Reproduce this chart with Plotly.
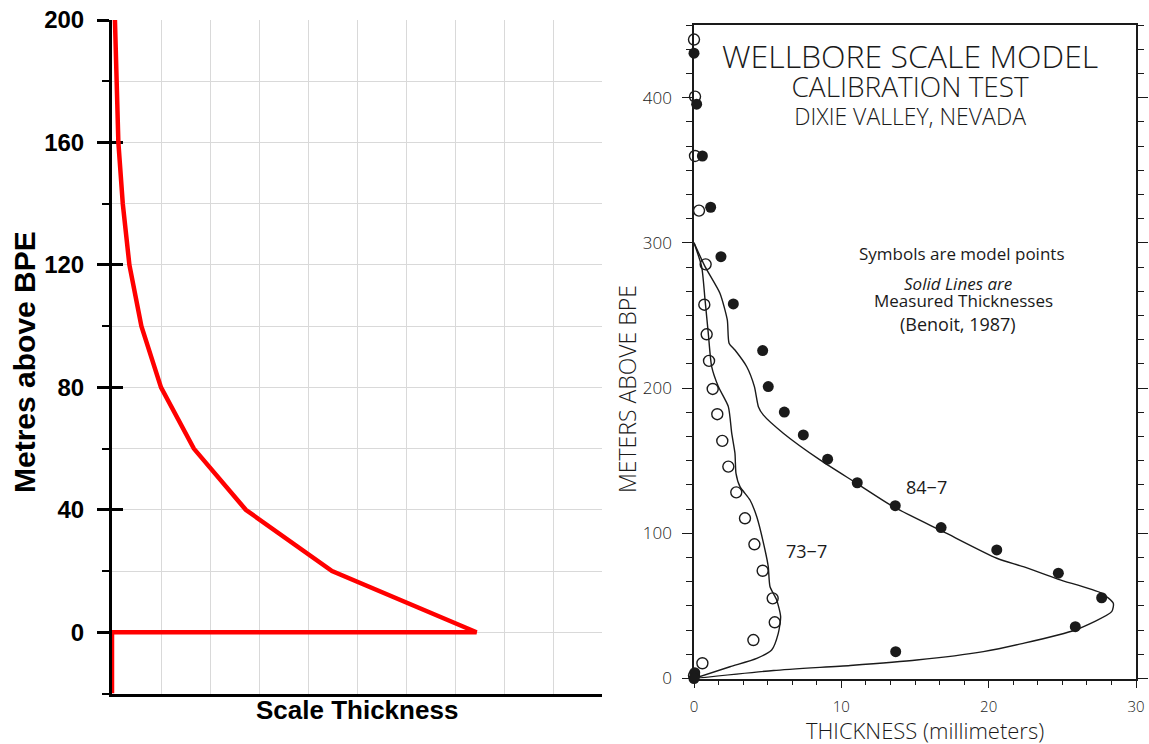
import plotly.graph_objects as go

W, H = 1149, 744

# ---- left panel: sketch profile (thickness in grid units vs height above BPE)
sketch_height = [200, 180, 160, 140, 120, 100, 80, 60, 40, 20, 0, 0, -20]
sketch_thickness = [0.06, 0.09, 0.13, 0.22, 0.355, 0.6, 1.0, 1.67, 2.73, 4.49, 7.44, 0, 0]

# ---- right panel: Dixie Valley calibration test
# measured thickness profiles (Benoit, 1987)
meas_847_height = [300, 283.6, 265.3, 246.9, 230.9, 226.2, 214.7, 201.0, 187.2, 181.5,
                   168.9, 150.5, 134.4, 118.3, 101.1, 82.8, 77.0, 68.3, 58.7, 51.8,
                   46.0, 33.4, 24.2, 18.5, 12.7, 9.0, 5.5, 0]
meas_847_mm = [0, 0.75, 1.76, 2.26, 2.38, 2.78, 3.58, 4.10, 4.37, 4.70,
               6.06, 8.55, 11.04, 13.53, 16.92, 20.55, 22.35, 24.73, 27.67, 28.46,
               28.35, 25.88, 22.35, 19.64, 15.12, 10.6, 5.4, 0]

meas_737_height = [300, 283.6, 260.7, 237.7, 214.7, 201.0, 187.2, 168.9, 155.1, 141.3,
                   132.1, 122.9, 111.4, 88.5, 77.0, 63.2, 54.1, 42.6, 31.1, 19.6,
                   13.9, 8.1, 0]
meas_737_mm = [0, 0.52, 0.75, 0.97, 1.20, 1.65, 2.33, 2.56, 2.78, 2.85,
               3.12, 3.80, 4.26, 4.82, 5.04, 5.16, 5.61, 5.88, 5.72, 5.27,
               4.26, 2.44, 0]

# model points
model_847_height = [430.6, 395.5, 359.8, 324.5, 290.5, 257.9, 225.8, 201.0, 183.5, 167.7,
                    151.0, 134.8, 119.0, 103.9, 88.5, 72.5, 55.6, 35.7, 18.5, 4.0, 0]
model_847_mm = [0, 0.18, 0.57, 1.13, 1.83, 2.67, 4.66, 5.04, 6.13, 7.42,
                9.07, 11.08, 13.66, 16.77, 20.55, 24.73, 27.67, 25.88, 13.69, 0.05, 0]

model_737_height = [440, 400.7, 359.8, 322.2, 285.2, 257.4, 237.0, 218.7, 199.4, 182.0,
                    163.6, 145.9, 128.2, 110.3, 92.4, 74.2, 55.2, 38.7, 26.5, 10.5, 2]
model_737_mm = [0, 0.07, 0.07, 0.34, 0.79, 0.70, 0.86, 1.02, 1.27, 1.58,
                1.92, 2.33, 2.87, 3.46, 4.10, 4.66, 5.34, 5.48, 4.03, 0.57, 0]

INK = "#1a1a1a"
SCAN_FONT = "Open Sans"

fig = go.Figure()

fig.add_trace(go.Scatter(x=sketch_thickness, y=sketch_height, mode="lines",
                         line=dict(color="#ff0000", width=4.5),
                         xaxis="x", yaxis="y", cliponaxis=False,
                         hoverinfo="skip", showlegend=False))
# carrier for the inward major ticks of the left axis
fig.add_trace(go.Scatter(x=[], y=[], xaxis="x", yaxis="y3", showlegend=False))

for hx, hy in ((meas_847_mm, meas_847_height), (meas_737_mm, meas_737_height)):
    fig.add_trace(go.Scatter(x=hx, y=hy, mode="lines",
                             line=dict(color=INK, width=1.4, shape="spline", smoothing=0.6),
                             xaxis="x2", yaxis="y2", cliponaxis=False,
                             hoverinfo="skip", showlegend=False))

fig.add_trace(go.Scatter(x=model_737_mm, y=model_737_height, mode="markers",
                         marker=dict(symbol="circle-open", size=11, color=INK,
                                     line=dict(width=1.4)),
                         xaxis="x2", yaxis="y2", cliponaxis=False,
                         hoverinfo="skip", showlegend=False))
fig.add_trace(go.Scatter(x=model_847_mm, y=model_847_height, mode="markers",
                         marker=dict(symbol="circle", size=11, color=INK),
                         xaxis="x2", yaxis="y2", cliponaxis=False,
                         hoverinfo="skip", showlegend=False))

grid = "#d9d9d9"
bold = dict(family="Arial, Liberation Sans", size=24, color="black", weight="bold")
scan_tick = dict(family=SCAN_FONT, size=17, color=INK, weight=300)

layout = dict(
    template="none",
    width=W, height=H,
    margin=dict(l=0, r=0, t=0, b=0, pad=0, autoexpand=False),
    paper_bgcolor="white", plot_bgcolor="white", showlegend=False,
    xaxis=dict(domain=[112 / W, 602 / W], range=[0, 10], dtick=1, tick0=0,
               showticklabels=False, ticks="", showgrid=True, gridcolor=grid,
               gridwidth=1, zeroline=False, showline=True, linecolor="black",
               linewidth=3, anchor="y", layer="below traces", automargin=False),
    yaxis=dict(domain=[1 - 693.5 / H, 1 - 20 / H], range=[-20, 200], dtick=40, tick0=0,
               ticks="outside", ticklen=12, tickwidth=2.5, tickcolor="black",
               tickfont=bold, ticklabelstandoff=8, showgrid=True, gridcolor=grid,
               gridwidth=1, zeroline=False, showline=True, linecolor="black",
               linewidth=3, anchor="x", layer="below traces", automargin=False,
               minor=dict(dtick=20, tick0=0, ticks="outside", ticklen=7, tickwidth=2,
                          tickcolor="black", showgrid=True, gridcolor=grid)),
    yaxis3=dict(overlaying="y", anchor="x", range=[-20, 200], dtick=40, tick0=0,
                ticks="inside", ticklen=11, tickwidth=2.5, tickcolor="black",
                showticklabels=False, showgrid=False, zeroline=False, showline=False,
                layer="below traces", automargin=False),
    xaxis2=dict(domain=[694 / W, 1136 / W], range=[0, 30], dtick=10, tick0=0,
                ticks="outside", ticklen=8, tickwidth=1.3, tickcolor=INK,
                tickfont=dict(family=SCAN_FONT, size=15, color=INK, weight=300),
                ticklabelstandoff=6,
                showgrid=False, zeroline=False, showline=True, linecolor=INK,
                linewidth=1.5, mirror=True, anchor="y2", automargin=False,
                minor=dict(dtick=10 / 6, ticks="outside", ticklen=5, tickwidth=1.2,
                           tickcolor=INK)),
    yaxis2=dict(domain=[1 - 678.5 / H, 1 - 25 / H], range=[0, 450], dtick=100, tick0=0,
                ticks="outside", ticklen=10, tickwidth=1.3, tickcolor=INK,
                tickfont=scan_tick, ticklabelstandoff=7,
                showgrid=False, zeroline=False, showline=True, linecolor=INK,
                linewidth=1.5, mirror="ticks", anchor="x2", automargin=False,
                minor=dict(dtick=100 / 6, ticks="outside", ticklen=6, tickwidth=1.2,
                           tickcolor=INK)),
)
fig.update_layout(**layout)


def label(text, px, py, size, family=SCAN_FONT, weight="normal", angle=0,
          color=INK, style="normal"):
    fig.add_annotation(text=text, x=px / W, y=1 - py / H, xref="paper", yref="paper",
                       xanchor="center", yanchor="middle", showarrow=False,
                       textangle=angle,
                       font=dict(family=family, size=size, color=color,
                                 weight=weight, style=style))


# left panel titles
label("Metres above BPE", 24, 362, 30, family="Arial, Liberation Sans",
      weight="bold", angle=-90, color="black")
label("Scale Thickness", 357, 710, 26, family="Arial, Liberation Sans",
      weight="bold", color="black")

# right panel heading, one block of three lines
label('<span style="font-size:32px">WELLBORE SCALE MODEL</span><br>'
      '<span style="font-size:28px">CALIBRATION TEST</span><br>'
      '<span style="font-size:23px">DIXIE VALLEY, NEVADA</span>',
      910, 83, 22, weight=300)
label("Symbols are model points", 962, 254, 17)
label("Solid Lines are", 958, 283, 17, style="italic")
label("Measured Thicknesses", 963, 300, 17)
label("(Benoit, 1987)", 958, 324, 18)
label("84−7", 926, 487, 18)
label("73−7", 806, 551, 18)
label("THICKNESS (millimeters)", 925, 730, 22, weight=300)
label("METERS ABOVE BPE", 627, 389, 23, weight=300, angle=-90)

fig.write_html("out.html")
